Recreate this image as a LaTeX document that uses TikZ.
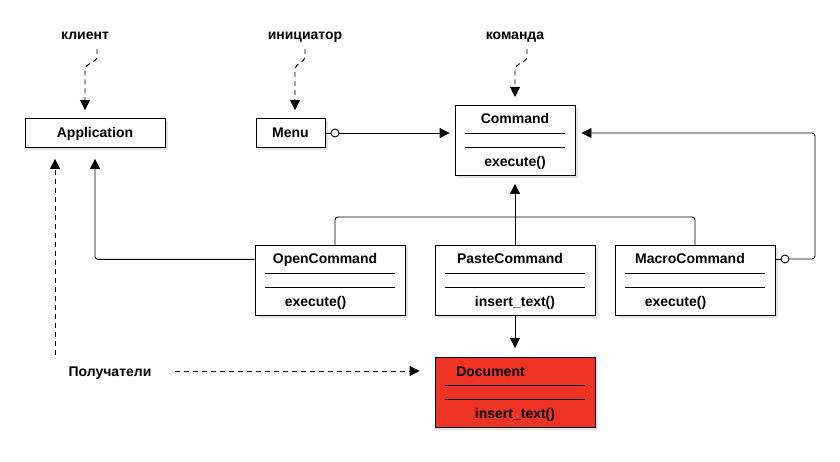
\documentclass[tikz,border=0pt]{standalone}
\usepackage{fontspec}
\setmainfont{Liberation Sans}
\usetikzlibrary{arrows.meta,shadows}
\definecolor{docred}{RGB}{238,51,36}
\begin{document}
\begin{tikzpicture}[x=1pt,y=-1pt,
  box/.style={draw, fill=white, line width=0.9pt, inner sep=0,
    drop shadow={shadow xshift=3pt,shadow yshift=-3pt,opacity=0.22}},
  lbl/.style={font=\fontsize{14}{16}\bfseries\selectfont, inner sep=0, anchor=base, yshift=-5pt},
  conn/.style={line width=0.9pt, rounded corners=3pt},
  tipd/.style={-{Triangle[length=10pt,width=10pt]}},
  dsh/.style={dash pattern=on 5pt off 4pt, line width=0.9pt},
  sep/.style={line width=0.9pt},
  ring/.style={circle, draw, fill=white, line width=0.9pt, minimum size=8pt, inner sep=0}
]
\useasboundingbox (0,0) rectangle (840,462);

% simple boxes
\node[box, minimum width=140pt, minimum height=29pt] (app) at (95,133) {};
\node[lbl] (appT) at (app.center) {Application};
\node[box, minimum width=69pt, minimum height=29pt] (menu) at (290.5,133) {};
\node[lbl] (menuT) at (menu.center) {Menu};

% Command
\node[box, minimum width=120pt, minimum height=70pt, anchor=north] (cmd) at (515,105) {};
\node[lbl] (cmdT) at (515,119) {Command};
\draw[sep] ([xshift=10pt,yshift=-28pt]cmd.north west) -- ([xshift=-10pt,yshift=-28pt]cmd.north east);
\draw[sep] ([xshift=10pt,yshift=-42pt]cmd.north west) -- ([xshift=-10pt,yshift=-42pt]cmd.north east);
\node[lbl] (cmdM) at (515,161.5) {execute()};

% OpenCommand
\node[box, minimum width=150pt, minimum height=70pt, anchor=north] (open) at (330,245) {};
\node[lbl] (openT) at (325,259) {OpenCommand};
\draw[sep] ([xshift=10pt,yshift=-28pt]open.north west) -- ([xshift=-10pt,yshift=-28pt]open.north east);
\draw[sep] ([xshift=10pt,yshift=-42pt]open.north west) -- ([xshift=-10pt,yshift=-42pt]open.north east);
\node[lbl] (openM) at (315.5,301.5) {execute()};

% PasteCommand
\node[box, minimum width=160pt, minimum height=70pt, anchor=north] (paste) at (515,245) {};
\node[lbl] (pasteT) at (510,259) {PasteCommand};
\draw[sep] ([xshift=10pt,yshift=-28pt]paste.north west) -- ([xshift=-10pt,yshift=-28pt]paste.north east);
\draw[sep] ([xshift=10pt,yshift=-42pt]paste.north west) -- ([xshift=-10pt,yshift=-42pt]paste.north east);
\node[lbl] (pasteM) at (515,301.5) {insert\_text()};

% MacroCommand
\node[box, minimum width=160pt, minimum height=70pt, anchor=north] (macro) at (695,245) {};
\node[lbl] (macroT) at (690,259) {MacroCommand};
\draw[sep] ([xshift=10pt,yshift=-28pt]macro.north west) -- ([xshift=-10pt,yshift=-28pt]macro.north east);
\draw[sep] ([xshift=10pt,yshift=-42pt]macro.north west) -- ([xshift=-10pt,yshift=-42pt]macro.north east);
\node[lbl] (macroM) at (675.5,301.5) {execute()};

% Document
\node[box, fill=docred, minimum width=160pt, minimum height=70pt, anchor=north] (doc) at (515,357) {};
\node[lbl] (docT) at (490.5,371) {Document};
\draw[sep] ([xshift=10pt,yshift=-28pt]doc.north west) -- ([xshift=-10pt,yshift=-28pt]doc.north east);
\draw[sep] ([xshift=10pt,yshift=-42pt]doc.north west) -- ([xshift=-10pt,yshift=-42pt]doc.north east);
\node[lbl] (docM) at (515,413.5) {insert\_text()};

% labels
\node[lbl] (client) at (85,35) {клиент};
\node[lbl] (invoker) at (305,35) {инициатор};
\node[lbl] (command) at (515,35) {команда};
\node[lbl] (recv) at (110,371) {Получатели};

% note arrows
\coordinate (c1) at (97,49);
\coordinate (i1) at (305,49);
\coordinate (k1) at (527,49);
\draw[dsh, tipd] (c1) -- ++(0,8) .. controls ++(0,5) and ++(0,-5) .. ++(-12,12) -- ([yshift=8pt]app.north -| 85,0);
\draw[dsh, tipd] (i1) -- ++(0,8) .. controls ++(0,5) and ++(0,-5) .. ++(-10,12) -- ([yshift=8pt]menu.north -| 295,0);
\draw[dsh, tipd] (k1) -- ++(0,8) .. controls ++(0,5) and ++(0,-5) .. ++(-12,12) -- ([yshift=8pt]cmd.north);

% Menu -> Command
\node[ring] (mring) at (335,133) {};
\draw[conn] (menu.east |- mring) -- (mring);
\draw[conn, tipd, shorten >=5pt] (mring) -- (mring -| cmd.west);

% Macro -> Command (aggregation)
\node[ring] (xring) at (785,259) {};
\coordinate (r1) at (815,133);
\draw[conn] (macro.east |- xring) -- (xring);
\draw[conn, tipd, shorten >=6pt] (xring) -| (r1) -- (r1 -| cmd.east);

% inheritance to Command
\draw[conn, tipd, shorten >=8pt] (paste.north) -- (cmd.south);
\draw[conn] ([xshift=5pt]open.north) |- ([yshift=28pt]macro.north) -- (macro.north);

% Open -> Application
\draw[conn, tipd, shorten >=11pt] ([yshift=21pt]open.west) -| (app.south);

% Paste -> Document
\draw[conn, tipd, shorten >=9pt] (paste.south) -- (doc.north);

% receivers
\coordinate (v1) at (55,355);
\draw[dsh, tipd, shorten >=11pt] (v1) -- (v1 |- app.south);
\coordinate (h1) at (175,371);
\draw[dsh, tipd, shorten >=15pt] (h1) -- (h1 -| doc.west);
\end{tikzpicture}
\end{document}
